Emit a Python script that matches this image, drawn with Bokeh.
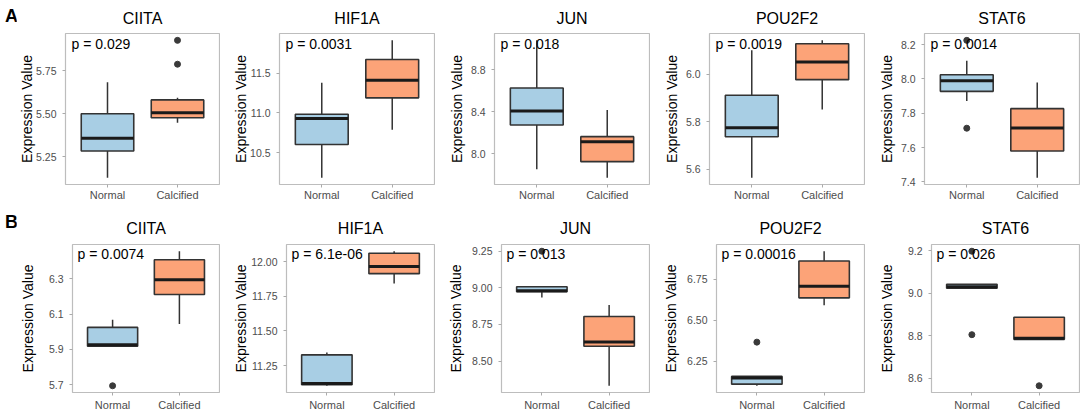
import math
from bokeh.plotting import figure
from bokeh.models import Range1d, FixedTicker, PrintfTickFormatter, Label, Div
from bokeh.layouts import row, column
from bokeh.embed import file_html
from bokeh.resources import INLINE

groups = ["Normal", "Calcified"]
genes = ["CIITA", "HIF1A", "JUN", "POU2F2", "STAT6"]
row_tags = ["A", "B"]

# box stats: [lower whisker, Q1, median, Q3, upper whisker]
# ---- Panel A ----
A_CIITA_normal = [5.128, 5.283, 5.357, 5.500, 5.684]
A_CIITA_calc = [5.448, 5.477, 5.506, 5.581, 5.593]
A_CIITA_out_normal = []
A_CIITA_out_calc = [5.789, 5.928]

A_HIF1A_normal = [10.19, 10.605, 10.93, 10.984, 11.38]
A_HIF1A_calc = [10.79, 11.19, 11.41, 11.67, 11.91]
A_HIF1A_out_normal = []
A_HIF1A_out_calc = []

A_JUN_normal = [7.85, 8.273, 8.407, 8.626, 9.08]
A_JUN_calc = [7.771, 7.924, 8.114, 8.162, 8.416]
A_JUN_out_normal = []
A_JUN_out_calc = []

A_POU2F2_normal = [5.564, 5.737, 5.775, 5.912, 6.102]
A_POU2F2_calc = [5.852, 5.978, 6.053, 6.130, 6.144]
A_POU2F2_out_normal = []
A_POU2F2_out_calc = []

A_STAT6_normal = [7.871, 7.928, 7.990, 8.025, 8.106]
A_STAT6_calc = [7.425, 7.580, 7.714, 7.827, 7.980]
A_STAT6_out_normal = [7.713, 8.225]
A_STAT6_out_calc = []

# ---- Panel B ----
B_CIITA_normal = [5.917, 5.917, 5.925, 6.024, 6.067]
B_CIITA_calc = [6.043, 6.211, 6.294, 6.408, 6.456]
B_CIITA_out_normal = [5.693]
B_CIITA_out_calc = []

B_HIF1A_normal = [11.104, 11.112, 11.120, 11.327, 11.344]
B_HIF1A_calc = [11.842, 11.913, 11.965, 12.060, 12.075]
B_HIF1A_out_normal = []
B_HIF1A_out_calc = []

B_JUN_normal = [8.934, 8.973, 8.980, 9.007, 9.007]
B_JUN_calc = [8.331, 8.601, 8.630, 8.804, 8.882]
B_JUN_out_normal = [9.25]
B_JUN_out_calc = []

B_POU2F2_normal = [6.100, 6.110, 6.148, 6.157, 6.157]
B_POU2F2_calc = [6.590, 6.636, 6.706, 6.860, 6.920]
B_POU2F2_out_normal = [6.366]
B_POU2F2_out_calc = []

B_STAT6_normal = [9.023, 9.023, 9.030, 9.042, 9.042]
B_STAT6_calc = [8.783, 8.783, 8.788, 8.887, 8.887]
B_STAT6_out_normal = [8.805, 9.197]
B_STAT6_out_calc = [8.565]

# p-values
A_pvalues = ["0.029", "0.0031", "0.018", "0.0019", "0.0014"]
B_pvalues = ["0.0074", "6.1e-06", "0.013", "0.00016", "0.026"]

# y tick values
A_ticks = [[5.25, 5.50, 5.75], [10.5, 11.0, 11.5], [8.0, 8.4, 8.8], [5.6, 5.8, 6.0], [7.4, 7.6, 7.8, 8.0, 8.2]]
A_fmt = ["%.2f", "%.1f", "%.1f", "%.1f", "%.1f"]
B_ticks = [[5.7, 5.9, 6.1, 6.3], [11.25, 11.50, 11.75, 12.00], [8.50, 8.75, 9.00, 9.25], [6.25, 6.50, 6.75], [8.6, 8.8, 9.0, 9.2]]
B_fmt = ["%.1f", "%.2f", "%.2f", "%.2f", "%.1f"]

A_data = [
    (A_CIITA_normal, A_CIITA_calc, A_CIITA_out_normal, A_CIITA_out_calc),
    (A_HIF1A_normal, A_HIF1A_calc, A_HIF1A_out_normal, A_HIF1A_out_calc),
    (A_JUN_normal, A_JUN_calc, A_JUN_out_normal, A_JUN_out_calc),
    (A_POU2F2_normal, A_POU2F2_calc, A_POU2F2_out_normal, A_POU2F2_out_calc),
    (A_STAT6_normal, A_STAT6_calc, A_STAT6_out_normal, A_STAT6_out_calc),
]
B_data = [
    (B_CIITA_normal, B_CIITA_calc, B_CIITA_out_normal, B_CIITA_out_calc),
    (B_HIF1A_normal, B_HIF1A_calc, B_HIF1A_out_normal, B_HIF1A_out_calc),
    (B_JUN_normal, B_JUN_calc, B_JUN_out_normal, B_JUN_out_calc),
    (B_POU2F2_normal, B_POU2F2_calc, B_POU2F2_out_normal, B_POU2F2_out_calc),
    (B_STAT6_normal, B_STAT6_calc, B_STAT6_out_normal, B_STAT6_out_calc),
]

FILL = {"Normal": "#A8CEE4", "Calcified": "#FCA378"}
FONT = "Liberation Sans"
BOX_W = 0.75
COL_W = 215
TAG_W = 16
FIRST_START = 5   # regular panel slots begin at 5 + 215*i


def text_w(s, size):
    # approximate Arial width for tick labels (digits + '.')
    return sum(0.278 if ch == "." else 0.556 for ch in s) * size


def make_panel(gene, stats, ticks, fmt, pval, left, fw, height, top, bottom,
               label_gap, xstand, px, tstand):
    normal, calc, out_n, out_c = stats
    allv = normal + calc + out_n + out_c
    lo, hi = min(allv), max(allv)
    pad = 0.05 * (hi - lo)
    width = left + fw + 1
    p = figure(width=width, height=height, output_backend="svg", toolbar_location=None,
               x_range=Range1d(0.4, 2.6), y_range=Range1d(lo - pad, hi + pad),
               min_border_left=left, min_border_right=1, min_border_top=top,
               min_border_bottom=bottom)
    fh = height - top - bottom
    p.background_fill_color = "white"
    p.border_fill_color = "white"
    p.outline_line_color = "#bdbdbd"
    p.outline_line_width = 1.2
    p.xgrid.visible = False
    p.ygrid.visible = False

    p.title.text = gene
    p.title.align = "center"
    p.title.text_font = FONT
    p.title.text_font_size = "16px"
    p.title.text_font_style = "normal"
    p.title.text_color = "#000000"
    p.title.standoff = tstand

    for ax in (p.xaxis[0], p.yaxis[0]):
        ax.axis_line_color = None
        ax.major_tick_line_color = "#aaaaaa"
        ax.major_tick_in = 0
        ax.major_tick_out = 3
        ax.minor_tick_line_color = None
        ax.major_label_text_font = FONT
        ax.major_label_text_color = "#4d4d4d"

    xa = p.xaxis[0]
    xa.ticker = FixedTicker(ticks=[1, 2])
    xa.major_label_overrides = {1: groups[0], 2: groups[1]}
    xa.major_label_text_font_size = "11px"
    xa.major_label_standoff = xstand

    ya = p.yaxis[0]
    ya.ticker = FixedTicker(ticks=ticks)
    ya.formatter = PrintfTickFormatter(format=fmt)
    ya.major_label_text_font_size = "10.5px"
    ya.major_label_standoff = 6
    ya.axis_label = "Expression Value"
    ya.axis_label_text_font = FONT
    ya.axis_label_text_font_size = "14px"
    ya.axis_label_text_font_style = "normal"
    ya.axis_label_text_color = "#000000"
    wmax = max(text_w(fmt % t, 10.5) for t in ticks)
    ya.axis_label_standoff = int(round(label_gap - wmax))

    for xi, (g, s, outs) in enumerate(((groups[0], normal, out_n), (groups[1], calc, out_c)), start=1):
        low, q1, med, q3, high = s
        p.segment(x0=[xi, xi], y0=[low, q3], x1=[xi, xi], y1=[q1, high],
                  line_color="#333333", line_width=1.5)
        p.vbar(x=[xi], width=BOX_W, bottom=[q1], top=[q3], fill_color=FILL[g],
               line_color="#333333", line_width=1.6)
        p.segment(x0=[xi - BOX_W / 2], y0=[med], x1=[xi + BOX_W / 2], y1=[med],
                  line_color="#1a1a1a", line_width=3)
        if outs:
            p.scatter(x=[xi] * len(outs), y=outs, size=6, fill_color="#3a3a3a",
                      line_color="#3a3a3a")

    p.add_layout(Label(x=px, y=fh - 2, x_units="screen", y_units="screen",
                       text="p = " + pval, text_font=FONT, text_font_size="14px",
                       text_color="#000000", text_baseline="top", text_align="left"))
    return p


def tag_div(text, height, top_pad):
    return Div(text=text, width=TAG_W, height=height, margin=(0, 0, 0, 0),
               styles={"font-family": FONT, "font-size": "18px", "font-weight": "bold",
                       "color": "#000000", "line-height": "1", "padding-top": f"{top_pad}px",
                       "padding-left": "5px", "overflow": "visible"})


def make_row(tag, data, ticks, fmts, pvals, frame_off, fw, height, top, bottom,
             label_gap, xstand, tag_pad, px, tstand):
    items = [tag_div(tag, height, tag_pad)]
    for i, g in enumerate(genes):
        left = frame_off - TAG_W if i == 0 else frame_off - FIRST_START
        items.append(make_panel(g, data[i], ticks[i], fmts[i], pvals[i], left, fw, height,
                                top, bottom, label_gap, xstand, px, tstand))
    return row(*items)


rowA = make_row(row_tags[0], A_data, A_ticks, A_fmt, A_pvalues,
                frame_off=64, fw=155, height=205, top=33, bottom=21, label_gap=18,
                xstand=1, tag_pad=7, px=6, tstand=13)
rowB = make_row(row_tags[1], B_data, B_ticks, B_fmt, B_pvalues,
                frame_off=71, fw=148, height=208, top=39, bottom=20, label_gap=25,
                xstand=3, tag_pad=8, px=5, tstand=15)

layout = column(rowA, rowB)
open("out.html", "w").write(file_html(layout, INLINE))
